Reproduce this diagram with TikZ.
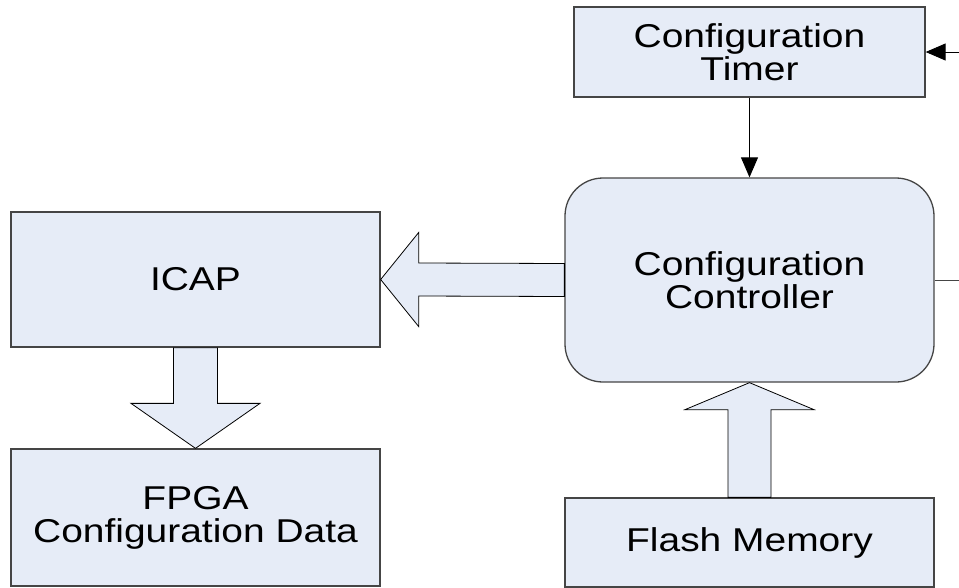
\documentclass[tikz,border=0pt]{standalone}
\usepackage{fontspec}
\setmainfont{Liberation Sans}[FakeStretch=1.18]
\usetikzlibrary{arrows.meta}
\definecolor{boxfill}{HTML}{E6ECF7}
\definecolor{boxline}{HTML}{454545}
\tikzset{
  blockbox/.style={draw=boxline, line width=1.3pt, fill=boxfill, inner sep=0pt,
    align=center, font=\fontsize{33}{33}\selectfont},
  fatarrow/.style={draw=black, line width=0.8pt, fill=boxfill, line join=miter},
  thinarrow/.style={draw=black, line width=0.9pt, -{Triangle[length=20pt,width=17pt]}},
  wire/.style={draw=boxline, line width=1pt}
}
\begin{document}
\begin{tikzpicture}[x=1pt,y=-1pt]
  \useasboundingbox (0,0) rectangle (959,587);

  % blocks
  \node[blockbox, minimum width=351pt, minimum height=90pt] (timer) at (749.5,52) {Configuration\\Timer};
  \node[blockbox, rounded corners=38pt, minimum width=369pt, minimum height=204pt] (ctrl) at (749.5,280) {Configuration\\Controller};
  \node[blockbox, minimum width=369pt, minimum height=135pt] (icap) at (195.5,279.5) {ICAP};
  \node[blockbox, minimum width=369pt, minimum height=137pt] (fpga) at (195.5,517.5) {FPGA\\Configuration Data};
  \node[blockbox, minimum width=369pt, minimum height=89pt] (flash) at (749.5,542.5) {Flash Memory};

  % free ends at the right border
  \coordinate (tin) at (959,52);
  \coordinate (cout) at (959,280);

  % thin connectors
  \draw[thinarrow] (tin) -- (timer.east);
  \draw[thinarrow] (timer.south) -- (ctrl.north);
  \draw[wire] (ctrl.east) -- (cout);

  % block arrow: controller -> ICAP
  \draw[fatarrow]
    ([yshift=16.5pt]ctrl.west) -- ([xshift=38pt,yshift=16.5pt]icap.east)
    -- ([xshift=38pt,yshift=47pt]icap.east) -- (icap.east)
    -- ([xshift=38pt,yshift=-47pt]icap.east) -- ([xshift=38pt,yshift=-16.5pt]icap.east)
    -- ([yshift=-16.5pt]ctrl.west) -- cycle;

  % block arrow: ICAP -> FPGA configuration data
  \draw[fatarrow]
    ([xshift=-22pt]icap.south) -- ([xshift=-22pt,yshift=45pt]fpga.north)
    -- ([xshift=-64.5pt,yshift=45pt]fpga.north) -- (fpga.north)
    -- ([xshift=64.5pt,yshift=45pt]fpga.north) -- ([xshift=22pt,yshift=45pt]fpga.north)
    -- ([xshift=22pt]icap.south) -- cycle;

  % block arrow: flash memory -> controller
  \draw[fatarrow]
    ([xshift=-21.5pt]flash.north) -- ([xshift=-21.5pt,yshift=-27pt]ctrl.south)
    -- ([xshift=-64.5pt,yshift=-27pt]ctrl.south) -- (ctrl.south)
    -- ([xshift=64.5pt,yshift=-27pt]ctrl.south) -- ([xshift=21.5pt,yshift=-27pt]ctrl.south)
    -- ([xshift=21.5pt]flash.north) -- cycle;
\end{tikzpicture}
\end{document}
